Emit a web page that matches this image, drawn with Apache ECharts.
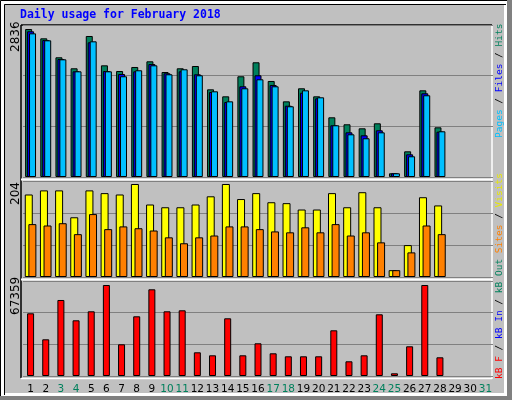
<!DOCTYPE html>
<html>
<head>
<meta charset="utf-8">
<script src="https://cdn.jsdelivr.net/npm/echarts@6/dist/echarts.min.js"></script>
<style>html,body{margin:0;padding:0;background:#c0c0c0}</style>
</head>
<body>
<div id="main" style="width:512px;height:400px"></div>
<script>
var days = [];
for (var d = 1; d <= 31; d++) days.push(String(d));
var weekend = ['3','4','10','11','17','18','24','25','31'];

var hits  = [2836,2657,2294,2083,2702,2140,2031,2108,2217,2012,2083,2127,1680,1546,1930,2198,1840,1450,1700,1546,1144,1010,933,1029,71,492,1661,952];
var files = [2792,2625,2261,2025,2581,2031,1974,2025,2165,1987,2025,1968,1629,1437,1738,1949,1763,1366,1615,1508,991,856,799,895,71,435,1604,868];
var pages = [2753,2619,2255,2025,2600,2025,1930,2045,2140,1968,2064,1949,1642,1450,1700,1872,1738,1355,1661,1527,991,818,742,856,71,397,1566,876];
var visits = [181,190,190,131,190,184,181,204,159,153,153,159,177,204,171,184,164,162,148,148,184,153,186,153,15,70,175,157];
var sites  = [116,113,118,94,138,105,111,107,102,87,74,87,91,111,111,105,100,98,109,98,116,91,98,76,15,54,113,94];
var kbytes = [46410,27165,56256,41230,47892,67359,23465,44190,64175,47892,48632,17543,15322,42710,15322,24205,16803,14582,14582,14582,33828,10881,15322,45671,2000,21984,67359,13842];

var maxHits = 2836, maxVisits = 204, maxKB = 67359;
var topMax = maxHits * 152 / 148, midMax = maxVisits * 96 / 93, botMax = maxKB * 95 / 91;

var chart = echarts.init(document.getElementById('main'));
var border = {borderColor: '#000', borderWidth: 1};
function xAxis(idx, show) {
  return {
    type: 'category', data: days, gridIndex: idx,
    axisLine: {show: false}, axisTick: {show: false},
    axisLabel: {
      show: show, interval: 0, margin: 8, fontFamily: 'DejaVu Sans', fontSize: 10.5,
      color: function (v) { return weekend.indexOf(v) >= 0 ? '#00805c' : '#000'; }
    }
  };
}
function yAxis(idx, max) {
  return {
    type: 'value', gridIndex: idx, min: 0, max: max, interval: max / 3,
    axisLabel: {show: false}, axisLine: {show: false}, axisTick: {show: false},
    splitLine: {lineStyle: {color: '#808080', width: 1}}
  };
}
var lf = '9.5px DejaVu Sans Mono';
function vtext(x, y, parts) {
  return {
    type: 'text', x: x, y: y, rotation: Math.PI / 2,
    style: {
      text: parts.map(function (p) { return '{' + p[1] + '|' + p[0] + '}'; }).join(''),
      font: lf,
      rich: {
        g: {fill: '#00805c', font: lf},
        b: {fill: '#0000ff', font: lf},
        c: {fill: '#00c0ff', font: lf},
        y: {fill: '#e8e800', font: lf},
        o: {fill: '#ff8000', font: lf},
        r: {fill: '#ff0000', font: lf},
        k: {fill: '#000', font: lf}
      }
    }
  };
}

chart.setOption({
  backgroundColor: '#c0c0c0',
  animation: false,
  grid: [
    {left: 23, right: 19, top: 25, height: 152},
    {left: 23, right: 19, top: 181, height: 96},
    {left: 23, right: 19, top: 281, height: 95}
  ],
  xAxis: [xAxis(0, false), xAxis(1, false), xAxis(2, true)],
  yAxis: [yAxis(0, topMax), yAxis(1, midMax), yAxis(2, botMax)],
  series: [
    {name: 'Hits', type: 'bar', data: hits, barWidth: 7, barGap: '-72%', xAxisIndex: 0, yAxisIndex: 0,
     itemStyle: Object.assign({color: '#00805c'}, border)},
    {name: 'Files', type: 'bar', data: files, barWidth: 7, barGap: '-72%', xAxisIndex: 0, yAxisIndex: 0,
     itemStyle: Object.assign({color: '#0000ff'}, border)},
    {name: 'Pages', type: 'bar', data: pages, barWidth: 7, barGap: '-72%', xAxisIndex: 0, yAxisIndex: 0,
     itemStyle: Object.assign({color: '#00c0ff'}, border)},
    {name: 'Visits', type: 'bar', data: visits, barWidth: 8, barGap: '-55%', xAxisIndex: 1, yAxisIndex: 1,
     itemStyle: Object.assign({color: '#ffff00'}, border)},
    {name: 'Sites', type: 'bar', data: sites, barWidth: 8, barGap: '-55%', xAxisIndex: 1, yAxisIndex: 1,
     itemStyle: Object.assign({color: '#ff8000'}, border)},
    {name: 'kB F', type: 'bar', data: kbytes, barWidth: 7, xAxisIndex: 2, yAxisIndex: 2,
     itemStyle: Object.assign({color: '#ff0000'}, border)}
  ],
  graphic: [
    {type: 'rect', shape: {x: 0.5, y: 0.5, width: 511, height: 399}, style: {fill: null, stroke: '#000', lineWidth: 1}},
    {type: 'rect', shape: {x: 2.5, y: 2.5, width: 503, height: 392}, style: {fill: null, stroke: '#fff', lineWidth: 3}},
    {type: 'rect', shape: {x: 507, y: 0, width: 5, height: 400}, style: {fill: '#808080'}},
    {type: 'rect', shape: {x: 0, y: 396, width: 512, height: 4}, style: {fill: '#808080'}},
    {type: 'line', shape: {x1: 4.5, y1: 4.5, x2: 506, y2: 4.5}, style: {stroke: '#000', lineWidth: 1}},
    {type: 'line', shape: {x1: 4.5, y1: 4.5, x2: 4.5, y2: 395}, style: {stroke: '#000', lineWidth: 1}},
    {type: 'line', shape: {x1: 21, y1: 25, x2: 492, y2: 25}, style: {stroke: '#000', lineWidth: 1.5}},
    {type: 'line', shape: {x1: 21, y1: 25, x2: 21, y2: 378}, style: {stroke: '#000', lineWidth: 1.5}},
    {type: 'line', shape: {x1: 492, y1: 25, x2: 492, y2: 379}, style: {stroke: '#fff', lineWidth: 1.5}},
    {type: 'line', shape: {x1: 21, y1: 378.5, x2: 492, y2: 378.5}, style: {stroke: '#fff', lineWidth: 1.5}},
    {type: 'line', shape: {x1: 21, y1: 179.5, x2: 492, y2: 179.5}, style: {stroke: '#fff', lineWidth: 2}},
    {type: 'line', shape: {x1: 21, y1: 279.5, x2: 492, y2: 279.5}, style: {stroke: '#fff', lineWidth: 2}},
    {type: 'text', x: 20, y: 9, style: {text: 'Daily usage for February 2018', fill: '#0000ff', font: 'bold 11.5px DejaVu Sans Mono'}},
    {type: 'text', x: 10, y: 52, rotation: Math.PI / 2, style: {text: '2836', fill: '#000', font: '12px DejaVu Sans'}},
    {type: 'text', x: 10, y: 205, rotation: Math.PI / 2, style: {text: '204', fill: '#000', font: '12px DejaVu Sans'}},
    {type: 'text', x: 10, y: 315, rotation: Math.PI / 2, style: {text: '67359', fill: '#000', font: '12px DejaVu Sans'}},
    vtext(495, 138, [['Pages', 'c'], [' / ', 'k'], ['Files', 'b'], [' / ', 'k'], ['Hits', 'g']]),
    vtext(495, 379, [['kB F', 'r'], [' / ', 'k'], ['kB In', 'b'], [' / ', 'k'], ['kB Out', 'g'], [' ', 'k'], ['Sites', 'o'], [' / ', 'k'], ['Visits', 'y']])
  ]
});
</script>
</body>
</html>
